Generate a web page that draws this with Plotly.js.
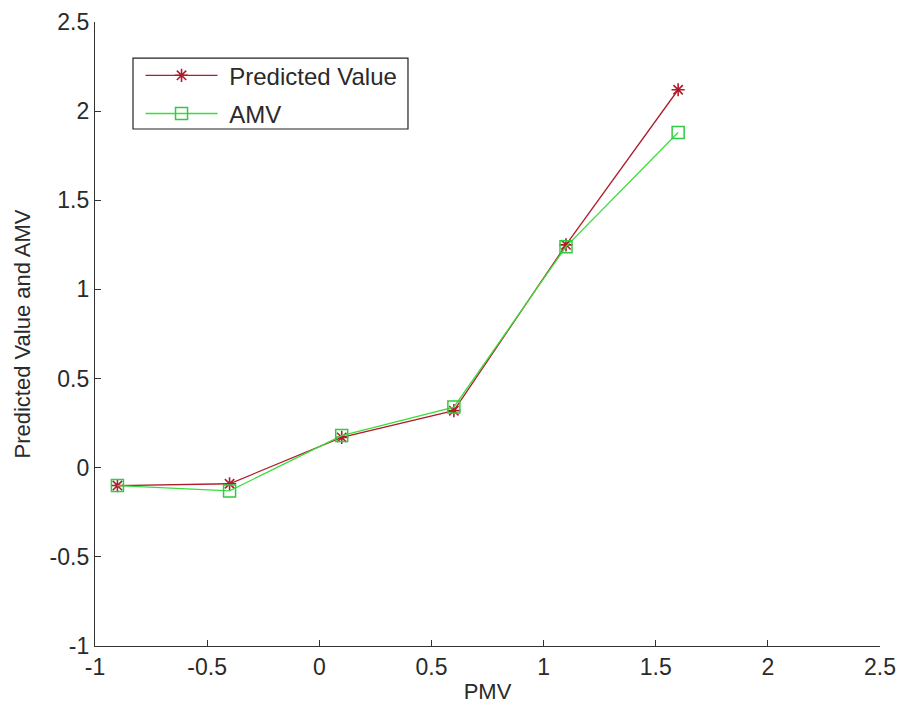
<!DOCTYPE html>
<html>
<head>
<meta charset="utf-8">
<script src="https://cdn.plot.ly/plotly-3.0.1.min.js"></script>
<style>
  html, body { margin: 0; padding: 0; background: #fff; }
  #chart { width: 900px; height: 711px; }
</style>
</head>
<body>
<div id="chart"></div>
<script>
// PMV values on the x axis
const pmv = [-0.9, -0.4, 0.1, 0.6, 1.1, 1.6];
// Model prediction and actual mean vote
const predictedValue = [-0.10, -0.09, 0.17, 0.32, 1.25, 2.12];
const amv = [-0.10, -0.13, 0.18, 0.34, 1.24, 1.88];

const seriesNames = ['Predicted Value', 'AMV'];
const xTicks = [-1, -0.5, 0, 0.5, 1, 1.5, 2, 2.5];
const yTicks = [-1, -0.5, 0, 0.5, 1, 1.5, 2, 2.5];

const FONT = '"Liberation Sans", Arial, sans-serif';
const TEXT = '#2a2a2a';
const PAD = '\u00a0'; // small gap between legend glyph and label

const traces = [
  {
    x: pmv, y: predictedValue, name: PAD + seriesNames[0], legendgroup: 'a',
    mode: 'lines+markers', type: 'scatter',
    line: { color: '#b01c2c', width: 1.3 },
    marker: { symbol: 'asterisk-open', size: 11, line: { color: '#e0102a', width: 1.6 } }
  },
  {
    x: pmv, y: amv, name: PAD + seriesNames[1], legendgroup: 'b',
    mode: 'lines+markers', type: 'scatter',
    line: { color: '#3ade3a', width: 1.3 },
    marker: { symbol: 'square-open', size: 12, color: '#2ecc40', line: { color: '#2ecc40', width: 1.5 } }
  }
];

const axisCommon = {
  showgrid: false, zeroline: false,
  showline: true, linecolor: '#333', linewidth: 1.2, mirror: false,
  ticks: 'inside', ticklen: 6, tickcolor: '#333', tickwidth: 1.2,
  tickfont: { family: FONT, size: 23, color: TEXT }
};

const layout = {
  width: 900, height: 711,
  margin: { l: 95, r: 20, t: 22, b: 65 },
  paper_bgcolor: '#fff', plot_bgcolor: '#fff',
  font: { family: FONT, color: TEXT },
  xaxis: Object.assign({}, axisCommon, {
    range: [-1, 2.5], tickvals: xTicks, ticktext: xTicks.map(String),
    title: { text: 'PMV', font: { family: FONT, size: 22, color: TEXT }, standoff: 4 }
  }),
  yaxis: Object.assign({}, axisCommon, {
    range: [-1, 2.5], tickvals: yTicks, ticktext: yTicks.map(String),
    title: { text: 'Predicted Value and AMV', font: { family: FONT, size: 22, color: TEXT }, standoff: 12 }
  }),
  // legend frame
  shapes: [{
    type: 'rect', xref: 'paper', yref: 'paper',
    x0: 0.0484, x1: 0.3987, y0: 0.8285, y1: 0.942,
    line: { color: '#222', width: 1.2 }, fillcolor: '#fff', layer: 'above'
  }],
  showlegend: true,
  legend: {
    x: 0.058, y: 0.950, xanchor: 'left', yanchor: 'top',
    bgcolor: 'rgba(0,0,0,0)', borderwidth: 0,
    font: { family: FONT, size: 24, color: TEXT },
    itemwidth: 72, traceorder: 'grouped', tracegroupgap: 4
  }
};

Plotly.newPlot('chart', traces, layout, { displayModeBar: false, staticPlot: true });
</script>
</body>
</html>
